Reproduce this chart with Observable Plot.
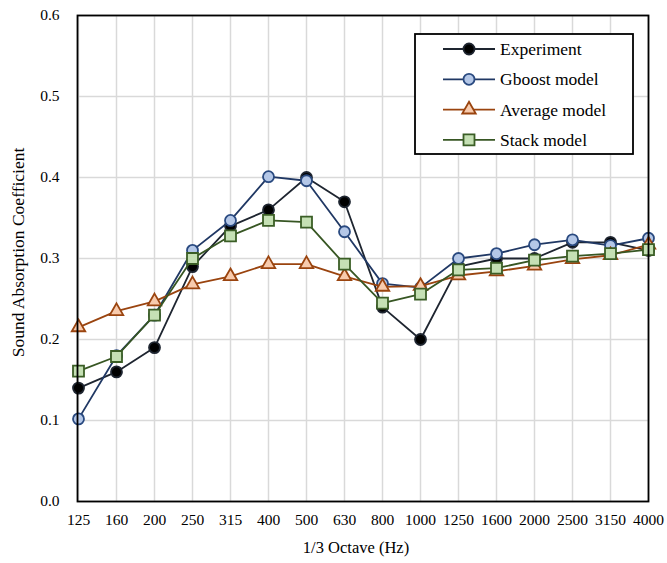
<!DOCTYPE html>
<html>
<head>
<meta charset="utf-8">
<script src="https://cdn.jsdelivr.net/npm/d3@7"></script>
<script src="https://cdn.jsdelivr.net/npm/@observablehq/plot@0.6"></script>
<style>
  html, body { margin: 0; padding: 0; background: #fff; }
  #wrap { position: relative; width: 667px; height: 563px; font-family: "Liberation Serif", "Times New Roman", serif; }
  #legend { position: absolute; left: 414px; top: 33px; }
</style>
</head>
<body>
<div id="wrap"></div>
<script>
// 1/3 octave band centre frequencies (Hz)
const frequencies = ["125","160","200","250","315","400","500","630","800","1000","1250","1600","2000","2500","3150","4000"];

// Sound absorption coefficient per band
const experiment = [0.14, 0.16, 0.19, 0.29, 0.34, 0.36, 0.40, 0.37, 0.24, 0.20, 0.29, 0.30, 0.30, 0.32, 0.32, 0.31];
const gboost     = [0.102, 0.18, 0.23, 0.31, 0.347, 0.401, 0.396, 0.333, 0.269, 0.264, 0.300, 0.306, 0.317, 0.323, 0.316, 0.325];
const average    = [0.215, 0.235, 0.247, 0.268, 0.278, 0.293, 0.293, 0.278, 0.265, 0.266, 0.279, 0.284, 0.291, 0.299, 0.304, 0.317];
const stack      = [0.161, 0.179, 0.230, 0.300, 0.328, 0.347, 0.345, 0.293, 0.245, 0.256, 0.286, 0.288, 0.298, 0.303, 0.306, 0.311];

const yTicks = [0, 0.1, 0.2, 0.3, 0.4, 0.5, 0.6];
const xTitle = "1/3 Octave (Hz)";
const yTitle = "Sound Absorption Coefficient";

// Series styling
const series = [
  {name: "Experiment",    values: experiment, line: "#1e2530", fill: "#000000", stroke: "#1e2530", symbol: "circle",   r: 5.5},
  {name: "Gboost model",  values: gboost,     line: "#203864", fill: "#b4c7e7", stroke: "#2a4a80", symbol: "circle",   r: 5.5},
  {name: "Average model", values: average,    line: "#9a440f", fill: "#f8cbad", stroke: "#9a440f", symbol: "triangle", r: 5.0},
  {name: "Stack model",   values: stack,      line: "#375623", fill: "#c5e0b4", stroke: "#3b5e26", symbol: "square",   r: 6.2}
];

const tidy = s => frequencies.map((f, i) => ({freq: f, value: s.values[i]}));

const marks = [
  Plot.gridX(frequencies, {stroke: "#d9d9d9", strokeOpacity: 1, strokeWidth: 1.5}),
  Plot.gridY(yTicks, {stroke: "#d9d9d9", strokeOpacity: 1, strokeWidth: 1.5}),
  Plot.axisX({tickSize: 0, tickPadding: 12, fontSize: 15.5, label: null}),
  Plot.axisY(yTicks, {tickSize: 0, tickPadding: 18, fontSize: 15.5, tickFormat: d3.format(".1f"), label: null}),
  // axis titles
  Plot.text([xTitle], {frameAnchor: "bottom", textAnchor: "middle", lineAnchor: "middle", dx: -7, dy: 46, fontSize: 16.5, fill: "#000"}),
  Plot.text([yTitle], {frameAnchor: "left", textAnchor: "middle", lineAnchor: "middle", rotate: -90, dx: -59, dy: -6, fontSize: 17.5, fill: "#000"})
];

for (const s of series) {
  const data = tidy(s);
  marks.push(Plot.line(data, {x: "freq", y: "value", stroke: s.line, strokeWidth: 1.8}));
  marks.push(Plot.dot(data, {x: "freq", y: "value", symbol: s.symbol, r: s.r, fill: s.fill, stroke: s.stroke, strokeWidth: 1.8}));
}
marks.push(Plot.frame({stroke: "#000", strokeWidth: 1.8}));

const chart = Plot.plot({
  width: 667,
  height: 563,
  marginLeft: 77,
  marginRight: 19,
  marginTop: 15,
  marginBottom: 62,
  style: {fontFamily: "'Liberation Serif', 'Times New Roman', serif", fontSize: "15px", color: "#000", background: "#fff"},
  x: {type: "point", domain: frequencies, padding: 0, label: null},
  y: {domain: [0, 0.6], label: null},
  marks
});
document.getElementById("wrap").appendChild(chart);

// Legend box
const lg = d3.select("#wrap").append("svg")
  .attr("id", "legend")
  .attr("width", 220).attr("height", 122)
  .style("font-family", "'Liberation Serif', 'Times New Roman', serif");
lg.append("rect").attr("x", 1).attr("y", 1).attr("width", 218).attr("height", 120)
  .attr("fill", "#fff").attr("stroke", "#000").attr("stroke-width", 1.8);
const symbolType = {circle: d3.symbolCircle, triangle: d3.symbolTriangle, square: d3.symbolSquare};
series.forEach((s, i) => {
  const y = 16 + i * 30.3;
  const g = lg.append("g").attr("transform", `translate(0,${y})`);
  g.append("line").attr("x1", 29).attr("x2", 81).attr("stroke", s.line).attr("stroke-width", 1.8);
  g.append("path").attr("transform", "translate(55,0)")
    .attr("d", d3.symbol(symbolType[s.symbol], Math.PI * s.r * s.r)())
    .attr("fill", s.fill).attr("stroke", s.stroke).attr("stroke-width", 1.8);
  g.append("text").attr("x", 86).attr("dy", "0.35em").attr("font-size", 17.5).attr("fill", "#000").text(s.name);
});
</script>
</body>
</html>
